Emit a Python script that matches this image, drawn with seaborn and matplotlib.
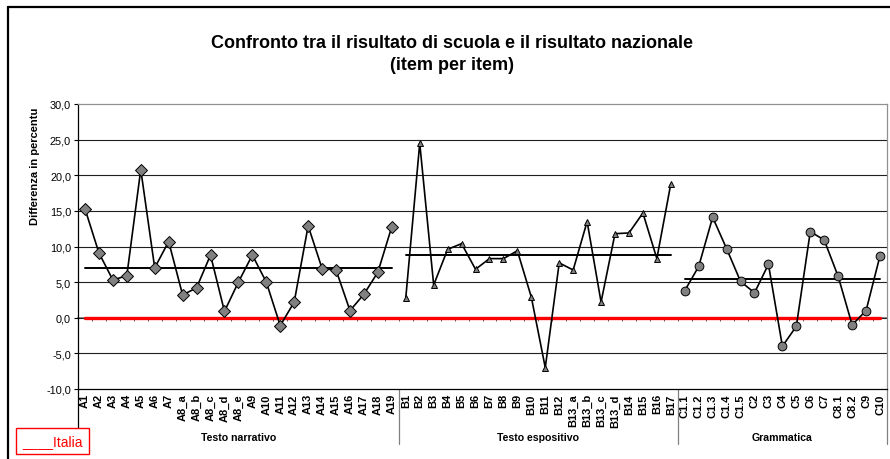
import numpy as np
import pandas as pd
import matplotlib
matplotlib.use("Agg")
import matplotlib.pyplot as plt
from matplotlib.lines import Line2D
import seaborn as sns

# --- data ---
items_a = ["A1", "A2", "A3", "A4", "A5", "A6", "A7", "A8_a", "A8_b", "A8_c", "A8_d",
           "A8_e", "A9", "A10", "A11", "A12", "A13", "A14", "A15", "A16", "A17", "A18", "A19"]
vals_a = [15.3, 9.1, 5.3, 5.9, 20.8, 7.0, 10.7, 3.2, 4.2, 8.8, 0.9,
          5.0, 8.8, 5.0, -1.1, 2.2, 12.9, 6.9, 6.7, 1.0, 3.3, 6.4, 12.8]

items_b = ["B1", "B2", "B3", "B4", "B5", "B6", "B7", "B8", "B9", "B10", "B11", "B12",
           "B13_a", "B13_b", "B13_c", "B13_d", "B14", "B15", "B16", "B17"]
vals_b = [2.8, 24.5, 4.6, 9.6, 10.4, 6.8, 8.3, 8.3, 9.4, 2.9, -7.0, 7.7,
          6.7, 13.5, 2.2, 11.8, 11.9, 14.7, 8.3, 18.8]

items_c = ["C1.1", "C1.2", "C1.3", "C1.4", "C1.5", "C2", "C3", "C4", "C5", "C6", "C7",
           "C8.1", "C8.2", "C9", "C10"]
vals_c = [3.8, 7.2, 14.1, 9.7, 5.1, 3.5, 7.5, -4.0, -1.2, 12.1, 10.9,
          5.8, -1.0, 1.0, 8.7]

sections = ["Testo narrativo", "Testo espositivo", "Grammatica"]
section_means = [7.0, 8.85, 5.5]
italia = 0.0

yticks = [-10, -5, 0, 5, 10, 15, 20, 25, 30]
ytick_labels = ["-10,0", "-5,0", "0,0", "5,0", "10,0", "15,0", "20,0", "25,0", "30,0"]

# --- build a long table ---
groups = [(items_a, vals_a), (items_b, vals_b), (items_c, vals_c)]
rows = []
pos = 0
for sec, (its, vs) in zip(sections, groups):
    for it, v in zip(its, vs):
        rows.append({"item": it, "pos": pos, "value": v, "section": sec})
        pos += 1
df = pd.DataFrame(rows)
n = len(df)

sns.set_theme(style="white")
plt.rcParams["font.family"] = ["Liberation Sans", "DejaVu Sans"]
plt.rcParams.update({"text.color": "black", "axes.labelcolor": "black",
                     "xtick.color": "black", "ytick.color": "black"})

fig = plt.figure(figsize=(8.9, 4.6), dpi=100)
W, H = 890, 460
ax = fig.add_axes([78 / W, 1 - 390 / H, (887 - 78) / W, (390 - 105) / H])

# horizontal gridlines
for t in yticks[1:-1]:
    ax.axhline(t, color="#202020", lw=0.8, zorder=1)

# Italia reference line at zero
sns.lineplot(x=df["pos"], y=[italia] * n, color="#ff0000", lw=2.4, ax=ax, zorder=2)

markers = {"Testo narrativo": ("D", 6.2), "Testo espositivo": ("^", 4.5), "Grammatica": ("o", 6.3)}
for sec, mean in zip(sections, section_means):
    sub = df[df["section"] == sec]
    sns.lineplot(x=[sub["pos"].min(), sub["pos"].max()], y=[mean, mean],
                 color="black", lw=1.4, ax=ax, zorder=3)
    mk, ms = markers[sec]
    sns.lineplot(data=sub, x="pos", y="value", color="black", lw=1.2,
                 marker=mk, markersize=ms, markerfacecolor="#808080",
                 markeredgecolor="black", markeredgewidth=0.7, ax=ax, zorder=4)

ax.set_xlim(-0.5, n - 0.5)
ax.set_ylim(-10, 30)
ax.set_yticks(yticks)
ax.set_yticklabels(ytick_labels, fontsize=7.8)
ax.tick_params(axis="y", length=3, width=0.8, color="black", pad=2, left=True, direction="out")
ax.set_ylabel("Differenza in percentu", fontsize=8, fontweight="bold")
ax.yaxis.set_label_coords(-0.047, 0.786)

# category labels
ax.set_xticks(df["pos"])
ax.set_xticklabels(df["item"], rotation=90, fontsize=8, fontweight="bold", va="top")
ax.tick_params(axis="x", which="major", length=0, pad=3)
ax.set_xticks(np.arange(-0.5, n, 1.0), minor=True)
ax.tick_params(axis="x", which="minor", length=25, width=0.9, color="#808080", direction="out")
ax.set_xlabel("")

for side in ["left", "bottom"]:
    ax.spines[side].set_color("black")
    ax.spines[side].set_linewidth(0.9)
for side in ["top", "right"]:
    ax.spines[side].set_color("#909090")
    ax.spines[side].set_linewidth(0.9)

# little ticks along the zero line
sec_ax = ax.secondary_xaxis(0.25)
sec_ax.set_xticks([])
sec_ax.set_xticks(np.arange(-0.5, n, 1.0), minor=True)
sec_ax.tick_params(which="minor", length=2.5, width=0.6, color="#404040", direction="out", labelbottom=False)
sec_ax.spines["bottom"].set_color("#808080")

# section separators and labels
trans = ax.get_xaxis_transform()
start = 0
bounds = [-0.5]
for sec, (its, _) in zip(sections, groups):
    end = start + len(its)
    bounds.append(end - 0.5)
    ax.text((start + end - 1) / 2, -0.168, sec, transform=trans, ha="center", va="center",
            fontsize=7.6, fontweight="bold")
    start = end
for i, b in enumerate(bounds):
    ax.plot([b, b], [0, -0.193], transform=trans, color="black" if i == 0 else "#808080",
            lw=0.9, clip_on=False)

# title
fig.text(452 / W, 1 - 43 / H, "Confronto tra il risultato di scuola e il risultato nazionale",
         ha="center", va="center", fontsize=13, fontweight="bold")
fig.text(452 / W, 1 - 65 / H, "(item per item)", ha="center", va="center",
         fontsize=13, fontweight="bold")

# legend box
fig.text(52 / W, 1 - 442 / H, "____Italia", ha="center", va="center", color="#ff0000", fontsize=10,
         bbox=dict(boxstyle="square,pad=0.45", fc="white", ec="#ff0000", lw=1))

# chart area frame (top and left edges visible)
fig.add_artist(Line2D([8 / W, 1], [1 - 8 / H, 1 - 8 / H], color="black", lw=1.6))
fig.add_artist(Line2D([8 / W, 8 / W], [0, 1 - 8 / H], color="black", lw=1.6))

fig.savefig("out.png", dpi=100)
